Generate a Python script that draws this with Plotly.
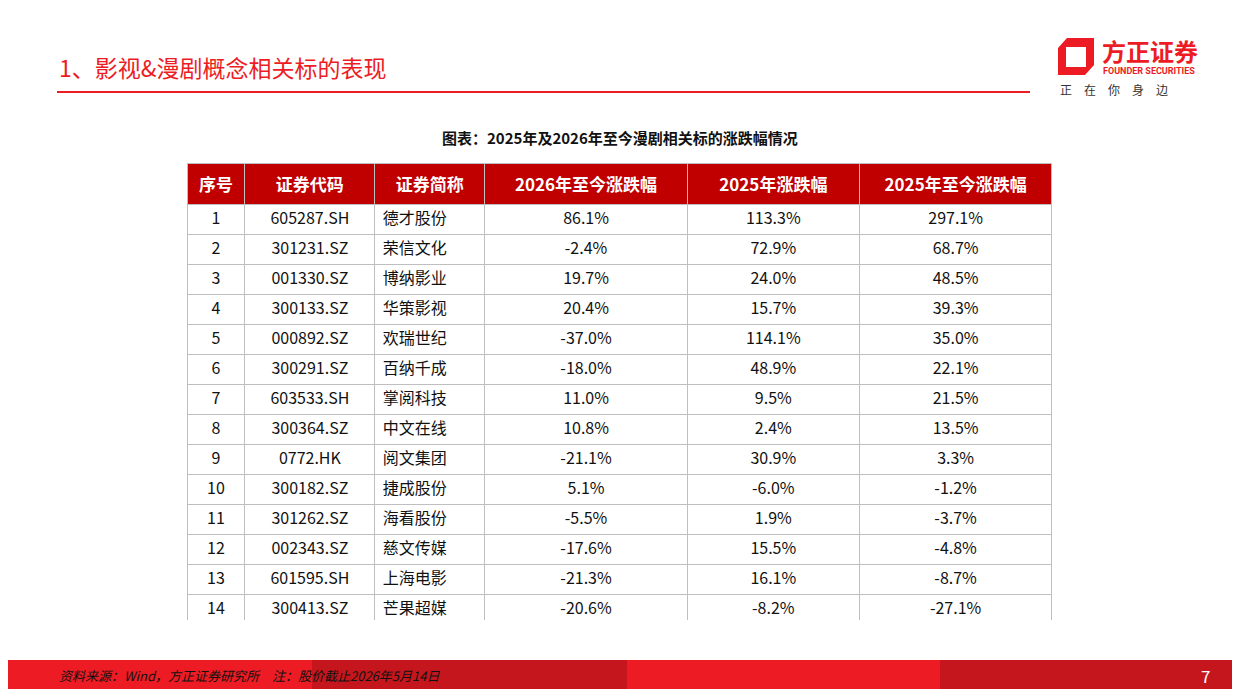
import plotly.graph_objects as go

# reference pixel frame; page body adds an 8px margin, so plot area is shifted
W, H = 1240, 697
OFF = 8
FW, FH = W - 2 * OFF, H - 2 * OFF


def fx(px):
    return (px - OFF) / FW


def fy(py):
    return 1 - (py - OFF) / FH


# table data
seq = list(range(1, 15))
codes = ['605287.SH', '301231.SZ', '001330.SZ', '300133.SZ', '000892.SZ', '300291.SZ', '603533.SH',
         '300364.SZ', '0772.HK', '300182.SZ', '301262.SZ', '002343.SZ', '601595.SH', '300413.SZ']
names = ['德才股份', '荣信文化', '博纳影业', '华策影视', '欢瑞世纪', '百纳千成', '掌阅科技',
         '中文在线', '阅文集团', '捷成股份', '海看股份', '慈文传媒', '上海电影', '芒果超媒']
chg_2026ytd = [86.1, -2.4, 19.7, 20.4, -37.0, -18.0, 11.0, 10.8, -21.1, 5.1, -5.5, -17.6, -21.3, -20.6]
chg_2025 = [113.3, 72.9, 24.0, 15.7, 114.1, 48.9, 9.5, 2.4, 30.9, -6.0, 1.9, 15.5, 16.1, -8.2]
chg_since2025 = [297.1, 68.7, 48.5, 39.3, 35.0, 22.1, 21.5, 13.5, 3.3, -1.2, -3.7, -4.8, -8.7, -27.1]
headers = ['序号', '证券代码', '证券简称', '2026年至今涨跌幅', '2025年涨跌幅', '2025年至今涨跌幅']

RED = '#C00000'
BRIGHT = '#ED1C24'
DARK = '#C4161C'
FONT = 'Noto Sans CJK SC'


def pct(vals):
    return [f'{v:.1f}%' for v in vals]


x0, x1, ytop, ybot = 187, 1053, 163, 620
colw = [58, 130, 110, 203, 172, 193]

fig = go.Figure(go.Table(
    domain=dict(x=[fx(x0), fx(x1)], y=[fy(ybot), fy(ytop)]),
    columnwidth=colw,
    header=dict(values=[f'<b>{h}</b>' for h in headers], fill_color=RED,
                font=dict(family=FONT, size=17, color='white'), align='center',
                height=30, line=dict(color='#BFBFBF', width=1)),
    cells=dict(values=[seq, codes, names, pct(chg_2026ytd), pct(chg_2025), pct(chg_since2025)],
               fill_color='white', font=dict(family=FONT, size=16, color='#111111'),
               align=['center', 'center', 'left', 'center', 'center', 'center'],
               height=30, line=dict(color='#BFBFBF', width=1)),
))

shapes = [
    dict(type='line', x0=fx(57), x1=fx(1030), y0=fy(92), y1=fy(92),
         line=dict(color=BRIGHT, width=2)),
    # logo mark
    dict(type='path', fillcolor=BRIGHT, line=dict(width=0),
         path=f'M {fx(1058)} {fy(75)} L {fx(1058)} {fy(48)} L {fx(1067)} {fy(38)} L {fx(1094)} {fy(38)}'
              f' L {fx(1094)} {fy(65)} L {fx(1085)} {fy(75)} Z'
              f' M {fx(1066)} {fy(67)} L {fx(1066)} {fy(47)} L {fx(1086)} {fy(47)} L {fx(1086)} {fy(67)} Z'),
]
# footer bands
for a, b, c in [(0, 312, BRIGHT), (312, 627, DARK), (627, 940, BRIGHT), (940, 1240, DARK)]:
    shapes.append(dict(type='rect', x0=fx(a), x1=fx(b), y0=fy(697), y1=fy(660),
                       fillcolor=c, line=dict(width=0), layer='below'))
for s in shapes:
    s.update(xref='paper', yref='paper')

ann = [
    dict(x=fx(57), y=fy(67), text='1、影视&漫剧概念相关标的表现', xanchor='left',
         font=dict(family=FONT, size=23, color=BRIGHT)),
    dict(x=fx(620), y=fy(137), text='<b>图表：2025年及2026年至今漫剧相关标的涨跌幅情况</b>',
         font=dict(family=FONT, size=15, color='#111111')),
    dict(x=fx(1100), y=fy(50), text='<b>方正证券</b>', xanchor='left',
         font=dict(family=FONT, size=24, color=BRIGHT)),
    dict(x=fx(1101), y=fy(71), text='<b>FOUNDER SECURITIES</b>', xanchor='left',
         font=dict(family='Roboto', size=9, color=BRIGHT)),
    dict(x=fx(1058), y=fy(89), text='正　在　你　身　边', xanchor='left',
         font=dict(family=FONT, size=12, color='#333333')),
    dict(x=fx(57), y=fy(675), text='<i>资料来源：Wind，方正证券研究所　注：股价截止2026年5月14日</i>',
         xanchor='left', font=dict(family=FONT, size=13, color='#111111')),
    dict(x=fx(1205), y=fy(675), text='7', font=dict(family=FONT, size=17, color='white')),
]
for a in ann:
    a.update(xref='paper', yref='paper', showarrow=False, yanchor='middle')
    a.setdefault('xanchor', 'center')

fig.update_layout(width=FW, height=FH, margin=dict(l=0, r=0, t=0, b=0), paper_bgcolor='white',
                  plot_bgcolor='white', shapes=shapes, annotations=ann)
fig.write_html('out.html')
